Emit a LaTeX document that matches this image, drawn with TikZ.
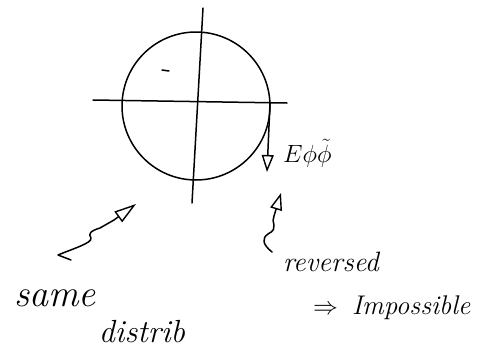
\documentclass[tikz,border=0pt]{standalone}
\usepackage{tikz}
\usetikzlibrary{arrows.meta}

\begin{document}
\begin{tikzpicture}[
  x=1pt, y=-1pt,
  pen/.style={line width=1.5pt, line cap=round, line join=round},
  arr/.style={pen, -{Triangle[open, length=17pt, width=12pt, line width=1.4pt]}},
  hand/.style={inner sep=0pt, font=\itshape\fontsize{#1}{#1}\selectfont},
  hand/.default=26
]
  \useasboundingbox (0,0) rectangle (490,351);

  % axes and circle
  \coordinate (hl) at (93,100);
  \coordinate (hr) at (287,103);
  \coordinate (vt) at (203,8);
  \coordinate (vb) at (192,203);
  \coordinate (east) at (270,103);
  \draw[pen] (196,106) ellipse [x radius=74, y radius=74];
  \draw[pen] (hl) -- (hr);
  \draw[pen] (vt) -- (vb);
  \draw[pen] (162,70) -- (169,71);

  % field arrow
  \coordinate (etip) at (267,172);
  \draw[arr] (east) -- (etip);
  \node[hand=25, anchor=west] (efield) at (283,153) {$E\phi\tilde{\phi}$};

  % squiggly arrows
  \coordinate (ltail) at (71,260);
  \coordinate (ltip) at (136,204);
  \draw[arr, -{Triangle[open, length=22pt, width=13pt, line width=1.4pt]}]
    (ltail) -- (58,255) .. controls (75,248) and (92,243) .. (91,238)
    .. controls (88,234) and (90,231) .. (100,228) -- (114,220) -- (ltip);
  \coordinate (rtail) at (272,252);
  \coordinate (rtip) at (281,193);
  \draw[arr] (rtail) .. controls (262,244) and (262,238) .. (268,234)
    .. controls (280,228) and (270,222) .. (274,216) -- (rtip);

  % labels
  \node[hand=38] (same) at (55,298) {same};
  \node[hand=32] (distrib) at (142,332) {distrib};
  \node[hand=28] (reversed) at (331,262) {reversed};
  \node[hand=27, anchor=west] (imposs) at (313,308) {$\Rightarrow$\, Impossible};
\end{tikzpicture}
\end{document}
